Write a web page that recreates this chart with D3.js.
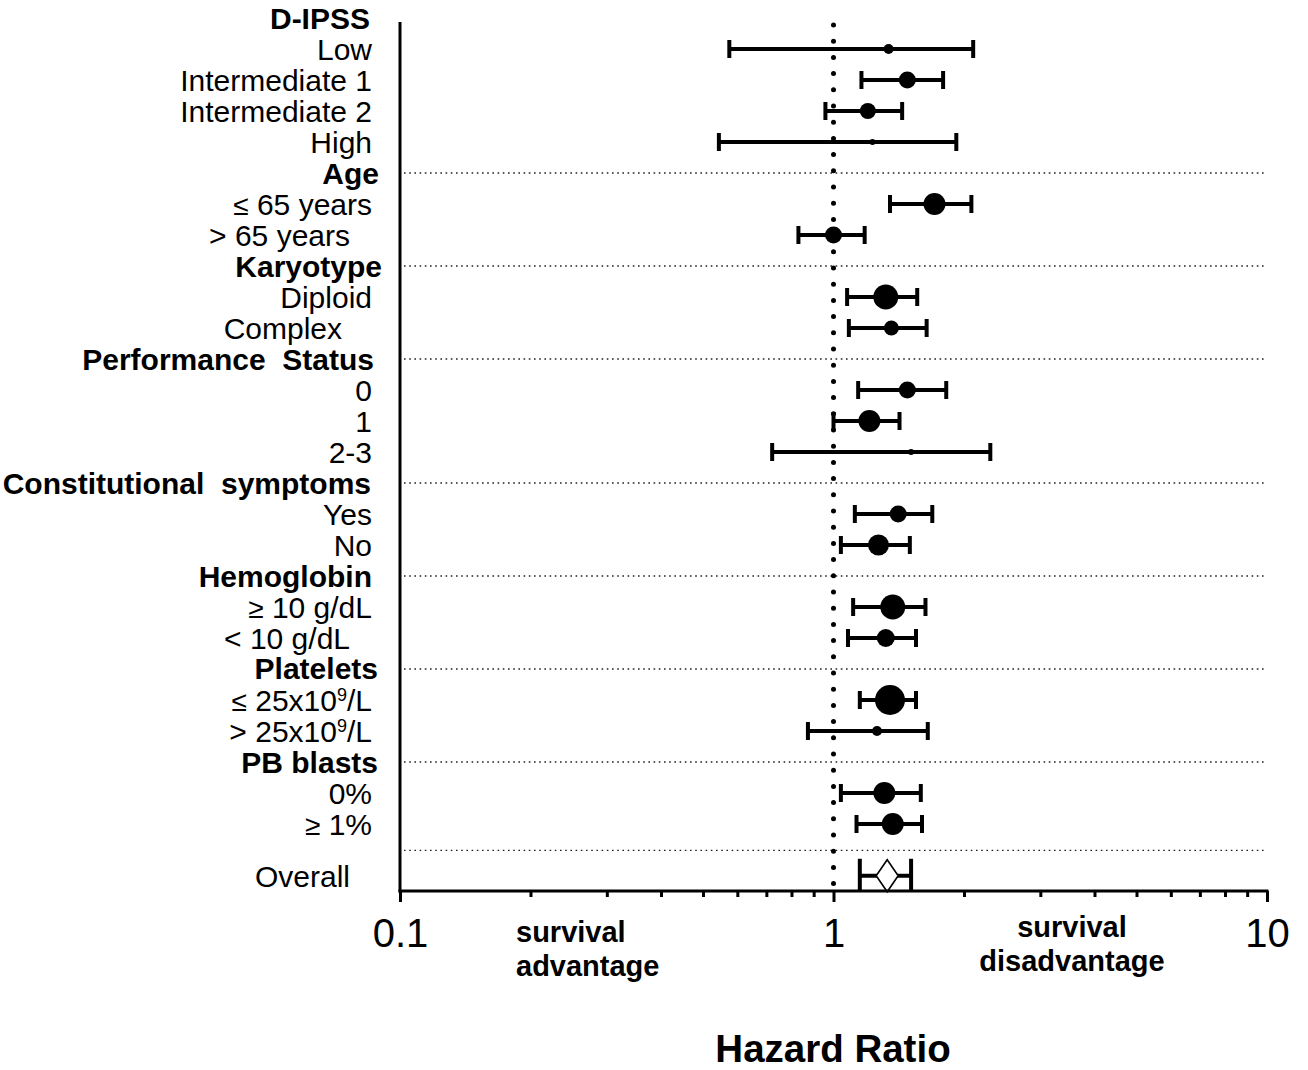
<!DOCTYPE html>
<html><head><meta charset="utf-8">
<script src="https://cdn.jsdelivr.net/npm/d3@7"></script>
<style>body{margin:0;background:#fff}svg{display:block;font-family:"Liberation Sans",Arial,Helvetica,sans-serif}</style>
</head><body>
<svg id="chart" width="1308" height="1070"></svg>
<script>
// ---------------- data ----------------
const groups = ["D-IPSS","Age","Karyotype","Performance  Status","Constitutional  symptoms","Hemoglobin","Platelets","PB blasts"];
const categories = ["Low","Intermediate 1","Intermediate 2","High","≤ 65 years","> 65 years","Diploid","Complex","0","1","2-3","Yes","No","≥ 10 g/dL","< 10 g/dL","≤ 25x10^9/L","> 25x10^9/L","0%","≥ 1%"];
const categoryGroup = [0,0,0,0,1,1,2,2,3,3,3,4,4,5,5,6,6,7,7];
const hazardRatio = [1.34,1.48,1.20,1.23,1.71,1.00,1.32,1.36,1.48,1.21,1.51,1.41,1.27,1.37,1.32,1.35,1.26,1.31,1.37];
const ciLower = [0.575,1.16,0.958,0.544,1.35,0.83,1.075,1.085,1.14,1.00,0.722,1.12,1.04,1.11,1.08,1.15,0.873,1.04,1.13];
const ciUpper = [2.10,1.79,1.44,1.92,2.08,1.18,1.56,1.64,1.82,1.42,2.30,1.69,1.50,1.63,1.55,1.55,1.65,1.59,1.60];
const weight = [25,72,64,9,121,72,156,56,72,121,9,72,110,156,81,225,25,121,121];
const overallLabel = "Overall";
const overallHR = 1.33, overallLower = 1.15, overallUpper = 1.51;
const tickValues = [0.1,0.2,0.3,0.4,0.5,0.6,0.7,0.8,0.9,1,2,3,4,5,6,7,8,9,10];
const tickLabels = ["0.1","1","10"];
const xTitle = "Hazard Ratio";
const leftNote = ["survival","advantage"];
const rightNote = ["survival","disadvantage"];

// ---------------- layout ----------------
const svg = d3.select("#chart");
const x = d3.scaleLog().domain([0.1,10]).range([400,1267]);
const rows = [];
let idx = 0;
groups.forEach((g,gi)=>{
  rows.push({type:"header",label:g,gi,idx:idx++});
  categories.forEach((c,ci)=>{ if(categoryGroup[ci]===gi) rows.push({type:"item",label:c,ci,idx:idx++}); });
});
const lastIdx = idx-1;
const overallIdx = lastIdx + 1.67;
const sepLastIdx = lastIdx + 0.85;
const y = d3.scaleLinear().domain([0,1]).range([18,49]);
const r = d3.scaleSqrt().domain([0,225]).range([0,15]);

const labelShift = {"> 65 years":-22,"Complex":-30,"< 10 g/dL":-22,"Overall":-22};
const headerRight = {"D-IPSS":370,"Age":379,"Karyotype":382,"Performance  Status":374,"Constitutional  symptoms":371,"Hemoglobin":372,"Platelets":378,"PB blasts":378};

function drawLabel(g, str, xEnd, yc, bold){
  const t = g.append("text").attr("x",xEnd).attr("y",yc+10.5)
    .attr("text-anchor","end").attr("font-size",30)
    .attr("font-weight",bold?"bold":"normal").attr("fill","#000")
    .style("white-space","pre").attr("xml:space","preserve");
  let s = str;
  if(s.startsWith("≤ ")||s.startsWith("≥ ")){
    t.append("tspan").attr("font-size",28).text(s[0]);
    s = s.slice(1);
  }
  if(s.includes("^")){
    const m = s.split("^");
    t.append("tspan").text(m[0]);
    t.append("tspan").attr("font-size",18).attr("dy",-10).text(m[1][0]);
    t.append("tspan").attr("dy",10).text(m[1].slice(1));
  } else {
    t.append("tspan").text(s);
  }
}

const labels = svg.append("g");
rows.forEach(rw=>{
  if(rw.type==="header") drawLabel(labels, rw.label, headerRight[rw.label]||376, y(rw.idx) - (rw.label==="Platelets"?1:0), true);
  else drawLabel(labels, rw.label, 372+(labelShift[rw.label]||0), y(rw.idx), false);
});
drawLabel(labels, overallLabel, 372+labelShift["Overall"], y(overallIdx)+1, false);

// separators
const sepIdx = rows.filter(d=>d.type==="header"&&d.gi>0).map(d=>d.idx).concat([sepLastIdx]);
svg.append("g").selectAll("line").data(sepIdx).join("line")
  .attr("x1",404).attr("x2",1265).attr("y1",d=>y(d)).attr("y2",d=>y(d))
  .attr("stroke","#222").attr("stroke-width",1.4).attr("stroke-dasharray","1.6,3.6");

// reference line at HR = 1
svg.append("line").attr("x1",x(1)).attr("x2",x(1)).attr("y1",25).attr("y2",889)
  .attr("stroke","#000").attr("stroke-width",5).attr("stroke-linecap","round")
  .attr("stroke-dasharray","0,16.2");

// error bars
const items = rows.filter(d=>d.type==="item");
const bars = svg.append("g");
items.forEach(rw=>{
  const i = rw.ci, yc = y(rw.idx);
  bars.append("line").attr("x1",x(ciLower[i])).attr("x2",x(ciUpper[i])).attr("y1",yc).attr("y2",yc)
    .attr("stroke","#000").attr("stroke-width",4);
  [ciLower[i],ciUpper[i]].forEach(v=>{
    bars.append("line").attr("x1",x(v)).attr("x2",x(v)).attr("y1",yc-9).attr("y2",yc+9)
      .attr("stroke","#000").attr("stroke-width",4);
  });
  bars.append("circle").attr("cx",x(hazardRatio[i])).attr("cy",yc).attr("r",r(weight[i])).attr("fill","#000");
});
// overall
const yo = y(overallIdx);
bars.append("line").attr("x1",x(overallLower)).attr("x2",x(overallUpper)).attr("y1",yo).attr("y2",yo)
  .attr("stroke","#000").attr("stroke-width",4);
[overallLower,overallUpper].forEach(v=>{
  bars.append("line").attr("x1",x(v)).attr("x2",x(v)).attr("y1",yo-17).attr("y2",yo+16)
    .attr("stroke","#000").attr("stroke-width",4);
});
const cx = x(overallHR);
bars.append("path").attr("d",`M${cx},${yo-16}L${cx+11},${yo}L${cx},${yo+16}L${cx-11},${yo}Z`)
  .attr("fill","#fff").attr("stroke","#000").attr("stroke-width",1.6);

// axes
const axisY = 891;
svg.append("line").attr("x1",400).attr("x2",400).attr("y1",22).attr("y2",axisY+1.5)
  .attr("stroke","#000").attr("stroke-width",3);
const xAxis = d3.axisBottom(x).tickValues(tickValues).tickSizeOuter(0).tickSize(6).tickFormat("");
const ax = svg.append("g").attr("transform",`translate(0,${axisY})`).call(xAxis);
ax.select(".domain").attr("stroke","#000").attr("stroke-width",3).attr("d",`M398.5,0H1268.5`);
ax.selectAll(".tick line").attr("stroke","#000").attr("stroke-width",3)
  .attr("y2",d=>tickLabels.includes(String(d))?11:6);
ax.selectAll(".tick").filter(d=>tickLabels.includes(String(d))).append("text")
  .attr("y",56).attr("fill","#000").attr("font-size",40).attr("text-anchor","middle")
  .attr("font-family",'"Liberation Sans",Arial,sans-serif')
  .text(d=>String(d));

// notes
const notes = svg.append("g").attr("font-weight","bold").attr("font-size",29).attr("fill","#000");
leftNote.forEach((t,i)=>notes.append("text").attr("x",516).attr("y",942+i*34).text(t));
rightNote.forEach((t,i)=>notes.append("text").attr("x",1072).attr("y",937+i*34).attr("text-anchor","middle").text(t));
svg.append("text").attr("x",833).attr("y",1062).attr("text-anchor","middle")
  .attr("font-weight","bold").attr("font-size",38.5).attr("fill","#000").text(xTitle);
</script>
</body></html>
